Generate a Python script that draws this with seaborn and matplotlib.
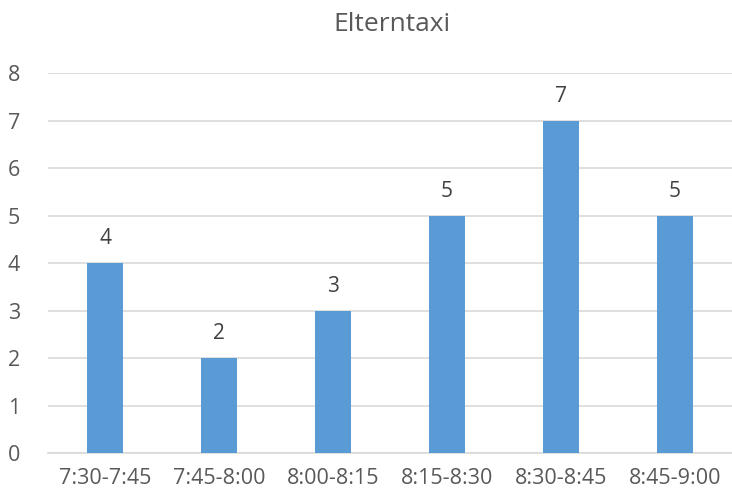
import matplotlib
matplotlib.use("Agg")
import matplotlib.pyplot as plt
import seaborn as sns
import pandas as pd
import numpy as np

categories = ["7:30-7:45", "7:45-8:00", "8:00-8:15", "8:15-8:30", "8:30-8:45", "8:45-9:00"]
values = [4, 2, 3, 5, 7, 5]
title = "Elterntaxi"

sns.set_style("white")
plt.rcParams['font.family'] = ['Open Sans', 'DejaVu Sans']

df = pd.DataFrame({"cat": categories, "val": values})
fig = plt.figure(figsize=(7.32, 4.95), dpi=100)
ax = fig.add_axes([0.0656, 0.0848, 0.9344, 0.7677])
sns.barplot(data=df, x="cat", y="val", color="#5B9BD5", width=0.315, saturation=1,
            linewidth=0, ax=ax, zorder=3)
ax.set_ylim(0, 8)
ax.set_xlim(-0.5, len(categories) - 0.5)
ax.set_yticks(range(0, 9))
ax.yaxis.grid(True, color="#D9D9D9", linewidth=1.2, zorder=0)
ax.set_axisbelow(True)
for s in ["top", "right", "left"]:
    ax.spines[s].set_visible(False)
ax.spines["bottom"].set_color("#D9D9D9")
ax.spines["bottom"].set_linewidth(1.2)
ax.set_xlabel("")
ax.set_ylabel("")
ax.tick_params(axis="y", length=0, labelsize=15.5, labelcolor="#595959", pad=20)
ax.tick_params(axis="x", which="major", length=0, labelsize=15.5, labelcolor="#595959", pad=11)
ax.set_xticks(np.arange(-0.5, len(categories)), minor=True)
ax.tick_params(axis="x", which="minor", length=6, color="#D9D9D9", width=1.2)
for c in ax.containers:
    ax.bar_label(c, labels=[str(v) for v in values], padding=10, fontsize=15, color="#404040")
fig.text(0.535, 0.95, title, ha="center", va="center", fontsize=19, color="#595959")
fig.savefig("out.png", dpi=100)
